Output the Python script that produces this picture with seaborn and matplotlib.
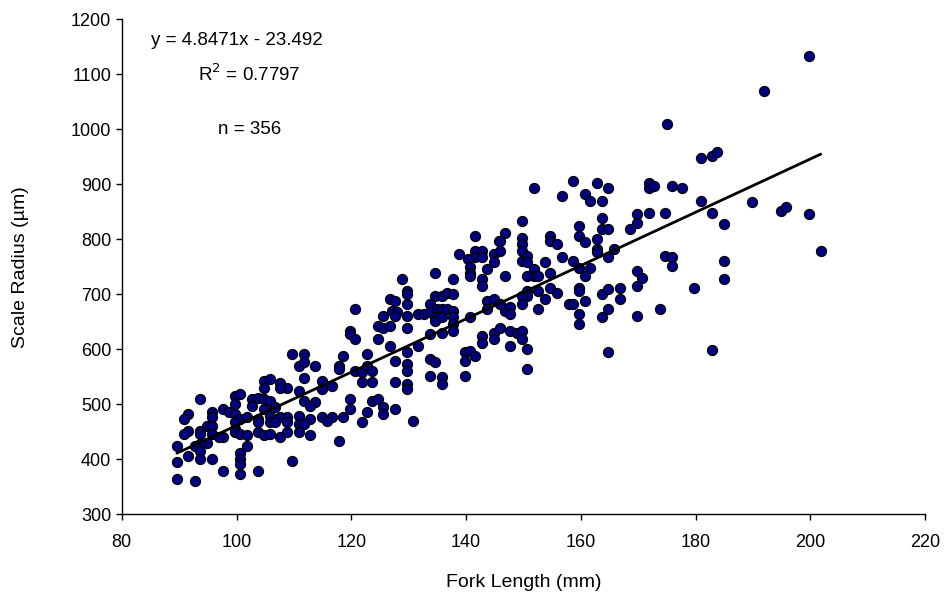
import matplotlib
matplotlib.use("Agg")
import matplotlib.pyplot as plt
import seaborn as sns
import pandas as pd

# =============================
# DATA
# =============================
fork_length = [
    # left cluster
    109.6, 111.7, 110.8, 111.7, 113.7, 111.7, 114.9, 114.9, 104.7, 105.9, 104.7, 107.6, 108.8, 107.6,
    110.8, 111.7, 113.7, 112.8, 93.7, 99.8, 100.6, 99.8, 97.7, 98.6, 95.7, 95.7, 91.6, 90.8,
    102.7, 103.8, 104.7, 105.9, 102.7, 104.7, 106.7, 99.8, 100.6, 101.8, 103.8, 105.9, 105.9, 107.6,
    108.8, 110.8, 112.8, 114.9, 110.8, 111.7, 108.8, 106.7, 103.8, 99.8, 94.8, 95.7, 93.7, 91.6,
    90.8, 93.7, 95.7, 97.7, 96.9, 99.8, 99.8, 100.6, 101.8, 103.8, 104.7, 105.9, 107.6, 108.8,
    110.8, 112.8, 94.8, 93.7, 92.8, 89.6, 101.8, 93.7, 91.6, 93.7, 95.7, 89.6, 100.6, 100.6,
    100.6, 109.6, 97.7, 100.6, 103.8, 89.6, 92.8,
    # middle cluster
    141.6, 145.7, 141.6, 142.8, 141.6, 142.8, 140.4, 138.7, 144.8, 144.8, 143.6, 140.7, 140.7, 140.7,
    142.8, 142.8, 134.6, 137.8, 128.8, 129.7, 129.7, 129.7, 129.7, 129.7, 126.8, 127.7, 127.1, 127.9,
    125.6, 127.7, 124.7, 125.6, 126.8, 124.7, 120.7, 119.8, 119.8, 120.7, 134.6, 135.8, 136.7, 137.8,
    133.8, 131.7, 132.6, 133.8, 134.9, 135.8, 136.7, 137.8, 134.6, 134.6, 135.8, 137.8, 137.8, 137.8,
    140.7, 143.6, 144.8, 143.6, 144.8, 144.8, 142.8, 142.8, 135.8, 133.8, 131.7, 126.8, 122.7, 118.6,
    117.8, 117.8, 120.7, 121.8, 122.7, 123.6, 123.6, 121.8, 116.6, 127.7, 127.7, 129.7, 129.7, 129.7,
    129.7, 129.7, 133.8, 134.6, 133.8, 135.8, 135.8, 139.9, 140.7, 141.6, 139.9, 139.9, 119.8, 119.8,
    123.6, 124.7, 125.6, 125.6, 122.7, 127.7, 118.6, 116.6, 115.7, 121.8, 130.8, 117.8,
    # upper middle cluster
    151.8, 158.7, 156.7, 160.8, 161.6, 162.8, 164.8, 163.7, 171.8, 171.8, 172.7, 175.9, 177.6, 169.8,
    171.8, 174.7, 169.8, 168.6, 163.7, 163.7, 164.8, 159.6, 159.6, 160.8, 162.8, 162.8, 162.8, 165.7,
    164.8, 149.7, 146.8, 145.9, 145.9, 149.7, 149.7, 149.7, 149.7, 150.6, 150.6, 154.7, 154.7, 155.8,
    156.7, 153.8, 158.7, 159.6, 161.6, 160.8, 151.8, 151.8, 152.6, 150.6, 146.8, 154.7, 154.7, 155.8,
    153.8, 152.6, 150.6, 150.6, 149.7, 149.7, 146.8, 147.7, 147.7, 145.9, 145.9, 147.7, 148.9, 149.7,
    149.7, 147.7, 150.6, 150.6, 152.6, 157.9, 158.7, 159.6, 159.6, 160.8, 159.6, 159.6, 163.7, 164.8,
    166.9, 166.9, 164.8, 163.7, 169.8, 170.7, 169.8, 169.8, 173.8, 174.7, 175.9, 175.9, 164.8,
    # right tail
    191.9, 180.9, 182.9, 183.8, 180.9, 182.9, 184.9, 189.8, 194.8, 195.7, 199.7, 201.8, 184.9, 184.9,
    179.7, 182.9, 199.7, 175.0,
]

scale_radius = [
    # left cluster
    591, 591, 570, 576, 570, 548, 542, 527, 542, 545, 530, 539, 530, 530,
    524, 506, 503, 497, 509, 515, 518, 500, 491, 485, 485, 476, 482, 473,
    509, 512, 509, 506, 497, 491, 494, 482, 473, 476, 473, 479, 467, 476,
    476, 479, 473, 476, 464, 464, 467, 467, 467, 467, 461, 461, 452, 452,
    446, 446, 446, 440, 440, 455, 449, 446, 443, 449, 443, 446, 440, 449,
    449, 443, 430, 427, 424, 424, 424, 415, 406, 400, 400, 394, 412, 400,
    391, 397, 379, 373, 379, 364, 361,
    # middle cluster
    806, 797, 779, 779, 767, 767, 764, 773, 773, 758, 746, 749, 739, 733,
    727, 715, 739, 727, 727, 706, 700, 682, 661, 639, 691, 688, 670, 667,
    661, 661, 642, 639, 642, 618, 673, 633, 627, 618, 697, 697, 703, 700,
    682, 664, 664, 667, 673, 673, 673, 670, 658, 652, 658, 658, 646, 633,
    658, 688, 691, 673, 630, 618, 624, 612, 630, 627, 606, 606, 591, 588,
    570, 564, 561, 558, 570, 561, 540, 540, 533, 579, 540, 594, 573, 561,
    536, 527, 582, 576, 552, 549, 536, 594, 597, 588, 579, 552, 509, 491,
    506, 509, 494, 482, 485, 491, 476, 476, 470, 467, 470, 433,
    # upper middle cluster
    894, 906, 879, 882, 870, 903, 894, 870, 903, 894, 897, 897, 894, 845,
    848, 848, 830, 818, 839, 818, 818, 824, 806, 794, 800, 782, 776, 782,
    767, 833, 812, 797, 779, 803, 791, 779, 761, 770, 758, 806, 797, 791,
    767, 758, 761, 748, 748, 733, 745, 733, 733, 733, 733, 739, 712, 703,
    691, 706, 706, 697, 697, 682, 670, 676, 664, 682, 639, 633, 630, 633,
    618, 606, 600, 564, 673, 682, 682, 712, 706, 688, 664, 645, 700, 709,
    712, 691, 673, 658, 742, 730, 715, 661, 673, 770, 767, 752, 594,
    # right tail
    1069, 948, 951, 958, 870, 848, 827, 867, 852, 858, 845, 779, 761, 727,
    712, 599, 1133, 1010,
]

slope = 4.8471
intercept = -23.492

df = pd.DataFrame({"fork_length": fork_length, "scale_radius": scale_radius})

# =============================
# PLOT
# =============================
sns.set_style("ticks")
plt.rcParams["font.family"] = ["Liberation Sans", "DejaVu Sans"]
plt.rcParams["text.color"] = "black"
plt.rcParams["axes.labelcolor"] = "black"

fig = plt.figure(figsize=(9.44, 6.02), dpi=100)
ax = fig.add_axes([0.129, 0.146, 0.851, 0.822])

sns.scatterplot(x="fork_length", y="scale_radius", data=df, ax=ax,
                color="#000080", edgecolor="black", linewidth=0.9, s=52, zorder=3)

x0, x1 = min(fork_length), max(fork_length)
ax.plot([x0, x1], [slope * x0 + intercept, slope * x1 + intercept],
        color="black", linewidth=2, zorder=4)

ax.set_xlim(80, 220)
ax.set_ylim(300, 1200)
ax.set_xticks(range(80, 221, 20))
ax.set_yticks(range(300, 1201, 100))
ax.tick_params(labelsize=13, length=4, width=1, color="black", labelcolor="black")
ax.tick_params(axis="x", pad=10)
ax.set_xlabel("Fork Length (mm)", fontsize=14, labelpad=17)
ax.set_ylabel("Scale Radius (µm)", fontsize=14, labelpad=30)
for side in ["left", "bottom"]:
    ax.spines[side].set_color("black")
    ax.spines[side].set_linewidth(1)
sns.despine(ax=ax)

ax.text(100.0, 1162, "y = 4.8471x - 23.492", fontsize=13.5, ha="center", va="center")
ax.text(102.2, 1100, "R$^2$ = 0.7797", fontsize=13.5, ha="center", va="center")
ax.text(102.3, 1000, "n = 356", fontsize=13.5, ha="center", va="center")

plt.savefig("out.png", dpi=100)
plt.close()
